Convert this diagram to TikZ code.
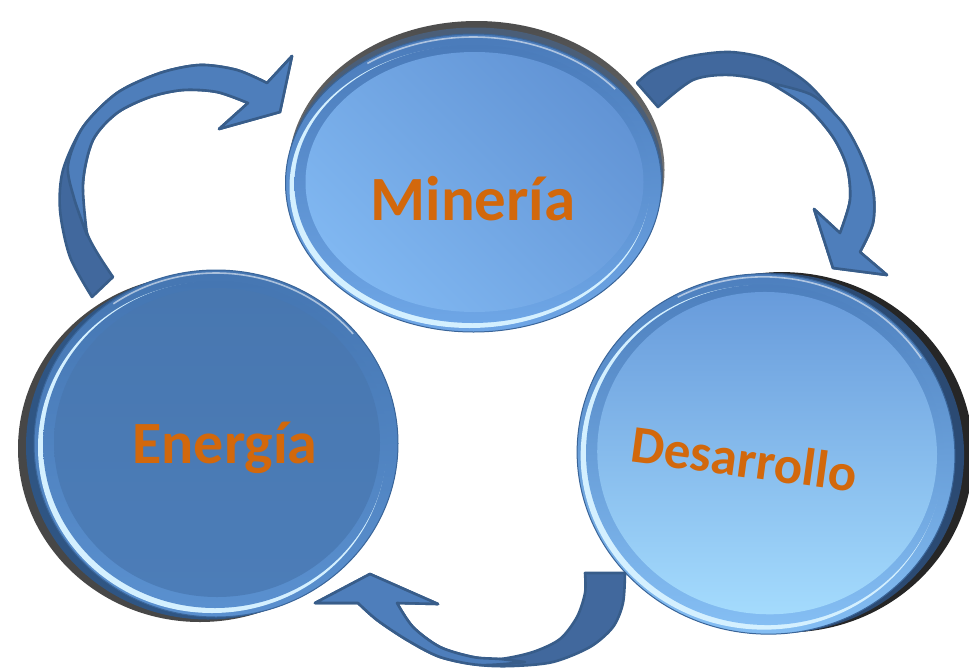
\documentclass[tikz,border=0pt]{standalone}
\usepackage{fontspec}
\setmainfont{Carlito}
\definecolor{arrowL}{HTML}{4E7EBB}
\definecolor{arrowD}{HTML}{41689D}
\definecolor{arrowB}{HTML}{385D8A}
\definecolor{txtorange}{HTML}{D2680C}
\definecolor{hlcol}{HTML}{D4F0FF}
\definecolor{HTMLc4A7BBA}{HTML}{4A7BBA}
\definecolor{HTMLc6EA6E6}{HTML}{6EA6E6}
\definecolor{HTMLc6294D5}{HTML}{6294D5}
\definecolor{HTMLc80B7F1}{HTML}{80B7F1}
\definecolor{HTMLc2F5583}{HTML}{2F5583}
\definecolor{HTMLc4576B2}{HTML}{4576B2}
\definecolor{HTMLc5A90CF}{HTML}{5A90CF}
\definecolor{HTMLc4877B0}{HTML}{4877B0}
\definecolor{HTMLc4C7DB8}{HTML}{4C7DB8}
\definecolor{HTMLc2B4A73}{HTML}{2B4A73}
\definecolor{HTMLc4B7DBC}{HTML}{4B7DBC}
\definecolor{HTMLc86C0F5}{HTML}{86C0F5}
\definecolor{HTMLc6699DA}{HTML}{6699DA}
\definecolor{HTMLcA6DDFE}{HTML}{A6DDFE}
\definecolor{HTMLc4A5E78}{HTML}{4A5E78}
\definecolor{rimline}{HTML}{3A6599}
\tikzset{
  min-shadow/.style={top color=black!70, bottom color=black!40},
  min-side/.style={fill=HTMLc4A5E78},
  min-rim/.style={top color=HTMLc4A7BBA, bottom color=HTMLc6EA6E6},
  min-face/.style={top color=HTMLc6294D5, bottom color=HTMLc80B7F1, shading angle=-45},
  ene-shadow/.style={fill=black!72},
  ene-side/.style={fill=HTMLc2F5583},
  ene-rim/.style={top color=HTMLc4576B2, bottom color=HTMLc5A90CF},
  ene-face/.style={top color=HTMLc4877B0, bottom color=HTMLc4C7DB8},
  des-shadow/.style={fill=black!85},
  des-side/.style={fill=HTMLc2B4A73},
  des-rim/.style={top color=HTMLc4B7DBC, bottom color=HTMLc86C0F5},
  des-face/.style={top color=HTMLc6699DA, bottom color=HTMLcA6DDFE},
}
% #1 cx, #2 cy, #3 rot, #4 rx, #5 ry, #6 sdx, #7 sdy, #8 prefix
\newcommand{\bevdisc}[8]{%
  \begin{scope}[shift={(#1,#2)}, rotate=#3]
    \path[#8-shadow] (#6,#7) ellipse [x radius=#4, y radius=#5];
    \path[#8-side] ({#6/2},{#7/2}) ellipse [x radius=#4, y radius=#5];
    \path[#8-rim, draw=rimline, line width=1pt] (0,0) ellipse [x radius=#4, y radius=#5];
    \fill[hlcol] (-4,4) ellipse [x radius={#4-8}, y radius={#5-8}];
    \path[#8-rim] (-1,1) ellipse [x radius={#4-10}, y radius={#5-10}];
    \path[#8-face] (1,-1) ellipse [x radius={#4-19}, y radius={#5-19}];
    \draw[white, opacity=.55, line width=1.6pt] (0,0) ++(235:{#4-3} and {#5-3})
      arc[start angle=235, end angle=320, x radius={#4-3}, y radius={#5-3}];
  \end{scope}}
\begin{document}
\begin{tikzpicture}[x=1pt,y=-1pt,
  arrowlight/.style={fill=arrowL, draw=arrowB, line width=2.6pt, line join=round},
  arrowback/.style={fill=arrowD, draw=arrowB, line width=2.6pt, line join=round},
  lbl/.style={font=\fontsize{60}{70}\selectfont\bfseries, text=txtorange, inner sep=0pt, anchor=base}]
\useasboundingbox (0,0) rectangle (969,667);

% discs
\bevdisc{473.5}{183}{0}{188}{149}{3}{-13}{min}
\bevdisc{216}{443.5}{0}{182}{173.5}{-16}{5}{ene}
\bevdisc{766}{454}{-7}{189}{180}{18}{-4}{des}

% arrow 1 (Energia -> Mineria)
\path[arrowback] plot[smooth] coordinates {(92,297) (70,257) (60,210) (63,170) (83,127) (117,93) (160,73) (200,65) (237,70) (267,83)}
  -- (292,56) -- (280,112) -- (219,129) -- (248,103)
  -- plot[smooth] coordinates {(248,103) (217,92) (183,90) (150,97) (117,113) (93,140) (83,183) (87,233) (113,277)} -- cycle;
\path[arrowlight] plot[smooth] coordinates {(87,235) (74,198) (68,165) (83,127) (117,93) (160,73) (200,65) (237,70) (267,83)}
  -- (292,56) -- (280,112) -- (219,129) -- (248,103)
  -- plot[smooth] coordinates {(248,103) (217,92) (183,90) (150,97) (117,113) (93,140) (83,183) (87,235)} -- cycle;

% arrow 2 (Mineria -> Desarrollo)
\path[arrowback] plot[smooth] coordinates {(637,83) (653,70) (687,57) (730,52) (770,60) (807,83) (837,117) (860,153) (873,190) (873,223) (860,252)}
  -- (887,275) -- (833,268) -- (814,209) -- (840,233)
  -- plot[smooth] coordinates {(840,233) (850,200) (847,167) (833,137) (807,107) (770,83) (730,75) (693,80) (658,107)} -- cycle;
\path[arrowlight] plot[smooth] coordinates {(770,83) (812,95) (842,122) (860,153) (873,190) (873,223) (860,252)}
  -- (887,275) -- (833,268) -- (814,209) -- (840,233)
  -- plot[smooth] coordinates {(840,233) (850,200) (847,167) (833,137) (807,107) (770,83)} -- cycle;

% arrow 3 (Desarrollo -> Energia)
\path[arrowback] plot[smooth] coordinates {(625,573) (623,603) (613,627) (590,647) (553,662) (513,666) (480,665) (440,657) (407,640) (377,620) (358,603)}
  -- (315,603) -- (370,574) -- (438,604) -- (397,603)
  -- plot[smooth] coordinates {(397,603) (413,627) (440,647) (473,657) (500,659) (533,652) (560,639) (577,617) (585,593) (585,573)} -- cycle;
\path[arrowlight] plot[smooth] coordinates {(525,662) (480,665) (440,657) (407,640) (377,620) (358,603)}
  -- (315,603) -- (370,574) -- (438,604) -- (397,603)
  -- plot[smooth] coordinates {(397,603) (413,627) (440,647) (473,657) (500,659) (525,662)} -- cycle;

% labels
\node[lbl, font=\fontsize{63}{72}\selectfont\bfseries] (mineria) at (473,220) {Minería};
\node[lbl] (energia) at (225,463) {Energía};
\node[lbl, font=\fontsize{53}{62}\selectfont\bfseries, rotate=-7.7] (desarrollo) at (742,477) {Desarrollo};
\end{tikzpicture}
\end{document}
